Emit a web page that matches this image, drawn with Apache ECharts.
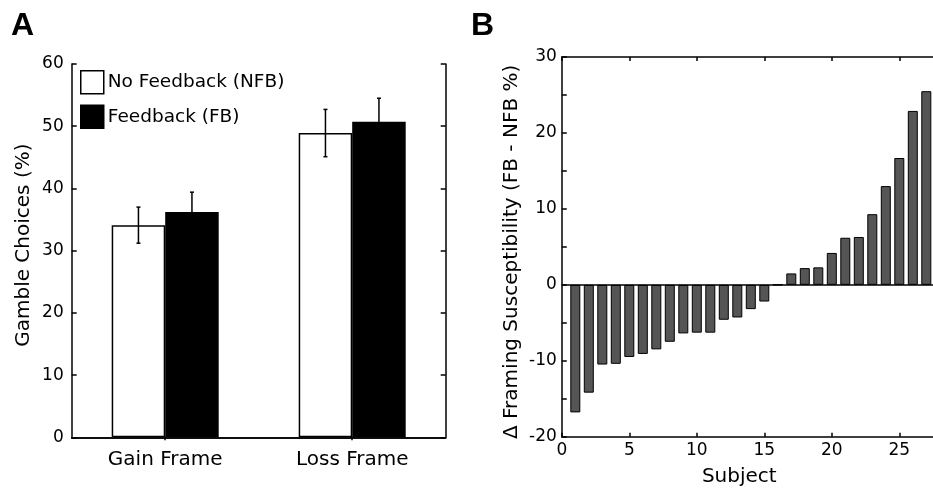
<!DOCTYPE html>
<html><head><meta charset="utf-8">
<script src="https://cdn.jsdelivr.net/npm/echarts@6/dist/echarts.min.js"></script>
<style>html,body{margin:0;padding:0;background:#fff}#c{width:933px;height:492px}</style>
</head><body><div id="c"></div>
<script>
// ---- Panel A data ----
const frames = ['Gain Frame', 'Loss Frame'];
const nfbMeans = [34.1, 48.9];
const nfbErrs = [2.9, 3.8];
const fbMeans = [36.2, 50.7];
const fbErrs = [3.2, 3.8];
const yTicksA = [0, 10, 20, 30, 40, 50, 60];
// ---- Panel B data ----
const subjects = [1,2,3,4,5,6,7,8,9,10,11,12,13,14,15,16,17,18,19,20,21,22,23,24,25,26,27];
const deltas = [-16.8,-14.2,-10.5,-10.4,-9.5,-9.1,-8.5,-7.5,-6.4,-6.3,-6.3,-4.6,-4.3,-3.2,-2.2,0,1.5,2.2,2.3,4.2,6.2,6.3,9.3,13.0,16.7,22.9,25.5];
const yTicksB = [-20, -10, 0, 10, 20, 30];
const xTicksB = [0, 5, 10, 15, 20, 25];

const FONT = 'DejaVu Sans';
const BAR_W = 53.5;
const axisLine = {show: true, lineStyle: {color: '#000', width: 1.5}};
const tickIn = (len) => ({show: true, inside: true, length: len, lineStyle: {color: '#000', width: 1.5}});

function errRender(side) {
  return function (params, api) {
    const idx = api.value(0), mean = api.value(1), err = api.value(2);
    const top = api.coord([idx, mean + err]);
    const bot = api.coord([idx, mean - err]);
    const x = top[0] + side * BAR_W / 2;
    const cap = 2;
    const st = {stroke: '#000', lineWidth: 1.5};
    return {type: 'group', children: [
      {type: 'line', shape: {x1: x, y1: top[1], x2: x, y2: bot[1]}, style: st},
      {type: 'line', shape: {x1: x - cap, y1: top[1], x2: x + cap, y2: top[1]}, style: st},
      {type: 'line', shape: {x1: x - cap, y1: bot[1], x2: x + cap, y2: bot[1]}, style: st}
    ]};
  };
}

const chart = echarts.init(document.getElementById('c'), null, {renderer: 'canvas'});
chart.setOption({
  animation: false,
  backgroundColor: '#fff',
  title: [
    {text: 'A', left: 11, top: 10, padding: 0, textStyle: {fontFamily: 'Liberation Sans', fontWeight: 'bold', fontSize: 32, color: '#000'}},
    {text: 'B', left: 471, top: 10, padding: 0, textStyle: {fontFamily: 'Liberation Sans', fontWeight: 'bold', fontSize: 32, color: '#000'}}
  ],
  legend: {
    orient: 'vertical', left: 80, top: 70, padding: 0, itemGap: 10,
    itemWidth: 23, itemHeight: 23, icon: 'rect', selectedMode: false,
    textStyle: {fontFamily: FONT, fontSize: 18.5, color: '#000', padding: [0, 0, 0, -1]},
    data: [
      {name: 'No Feedback (NFB)', itemStyle: {color: '#fff', borderColor: '#000', borderWidth: 1.5}},
      {name: 'Feedback (FB)', itemStyle: {color: '#000', borderColor: '#000', borderWidth: 1.5}}
    ]
  },
  grid: [
    {left: 71.7, top: 64, width: 374, height: 373.3, outerBoundsMode: 'none', containLabel: false},
    {left: 561.8, top: 57, width: 378, height: 379.7, outerBoundsMode: 'none', containLabel: false}
  ],
  xAxis: [
    {gridIndex: 0, type: 'category', data: frames, position: 'bottom', axisLine: axisLine,
     axisTick: {show: false}, splitLine: {show: false},
     axisLabel: {fontFamily: FONT, fontSize: 20, color: '#000', margin: 12}},
    {gridIndex: 0, type: 'category', data: frames, position: 'top', axisLine: axisLine,
     axisTick: Object.assign(tickIn(3), {alignWithLabel: true}), axisLabel: {show: false}, splitLine: {show: false}},
    {gridIndex: 1, type: 'value', min: 0, max: 28, interval: 5, position: 'bottom', axisLine: Object.assign({onZero: false}, axisLine),
     axisTick: tickIn(4), splitLine: {show: false},
     axisLabel: {fontFamily: FONT, fontSize: 17, color: '#000', margin: 5, showMaxLabel: false,
       formatter: v => xTicksB.includes(v) ? String(v) : ''},
     name: 'Subject', nameLocation: 'middle', nameGap: 30,
     nameTextStyle: {fontFamily: FONT, fontSize: 20, color: '#000', padding: [0, 23, 0, 0]}},
    {gridIndex: 1, type: 'value', min: 0, max: 28, interval: 5, position: 'top', axisLine: Object.assign({onZero: false}, axisLine),
     axisTick: tickIn(4), axisLabel: {show: false}, splitLine: {show: false}}
  ],
  yAxis: [
    {gridIndex: 0, type: 'value', min: 0, max: 60, interval: 10, position: 'left', axisLine: axisLine,
     axisTick: tickIn(5), splitLine: {show: false},
     axisLabel: {fontFamily: FONT, fontSize: 17, color: '#000', margin: 8,
       formatter: v => yTicksA.includes(v) ? String(v) : ''},
     name: 'Gamble Choices (%)', nameLocation: 'middle', nameGap: 38,
     nameTextStyle: {fontFamily: FONT, fontSize: 20, color: '#000', padding: [0, 0, 0, 11]}},
    {gridIndex: 0, type: 'value', min: 0, max: 60, interval: 10, position: 'right', axisLine: axisLine,
     axisTick: tickIn(5), axisLabel: {show: false}, splitLine: {show: false}},
    {gridIndex: 1, type: 'value', min: -20, max: 30, interval: 5, position: 'left', axisLine: axisLine,
     axisTick: tickIn(5), splitLine: {show: false},
     axisLabel: {fontFamily: FONT, fontSize: 17, color: '#000', margin: 5,
       formatter: v => yTicksB.includes(v) ? String(v) : ''},
     name: 'Δ Framing Susceptibility (FB - NFB %)', nameLocation: 'middle', nameGap: 40,
     nameTextStyle: {fontFamily: FONT, fontSize: 20, color: '#000', padding: [0, 10, 0, 0]}}
  ],
  series: [
    {name: 'No Feedback (NFB)', type: 'bar', xAxisIndex: 0, yAxisIndex: 0, data: nfbMeans,
     barWidth: BAR_W, barGap: '0%', itemStyle: {color: '#fff', borderColor: '#000', borderWidth: 1.5}, z: 2},
    {name: 'Feedback (FB)', type: 'bar', xAxisIndex: 0, yAxisIndex: 0, data: fbMeans,
     barWidth: BAR_W, barGap: '0%', itemStyle: {color: '#000', borderColor: '#000', borderWidth: 1.5}, z: 2},
    {name: 'errNFB', type: 'custom', xAxisIndex: 0, yAxisIndex: 0, z: 5,
     data: frames.map((f, i) => [i, nfbMeans[i], nfbErrs[i]]), encode: {x: 0, y: 1}, renderItem: errRender(-1)},
    {name: 'errFB', type: 'custom', xAxisIndex: 0, yAxisIndex: 0, z: 5,
     data: frames.map((f, i) => [i, fbMeans[i], fbErrs[i]]), encode: {x: 0, y: 1}, renderItem: errRender(1)},
    {name: 'delta', type: 'bar', xAxisIndex: 2, yAxisIndex: 2,
     data: subjects.map((s, i) => [s, deltas[i]]), barWidth: 10,
     itemStyle: {color: '#555', borderColor: '#000', borderWidth: 1},
     markLine: {silent: true, symbol: ['none', 'none'], label: {show: false},
       lineStyle: {color: '#000', width: 1.5, type: 'solid'}, data: [{yAxis: 0}]}}
  ]
});
</script></body></html>
